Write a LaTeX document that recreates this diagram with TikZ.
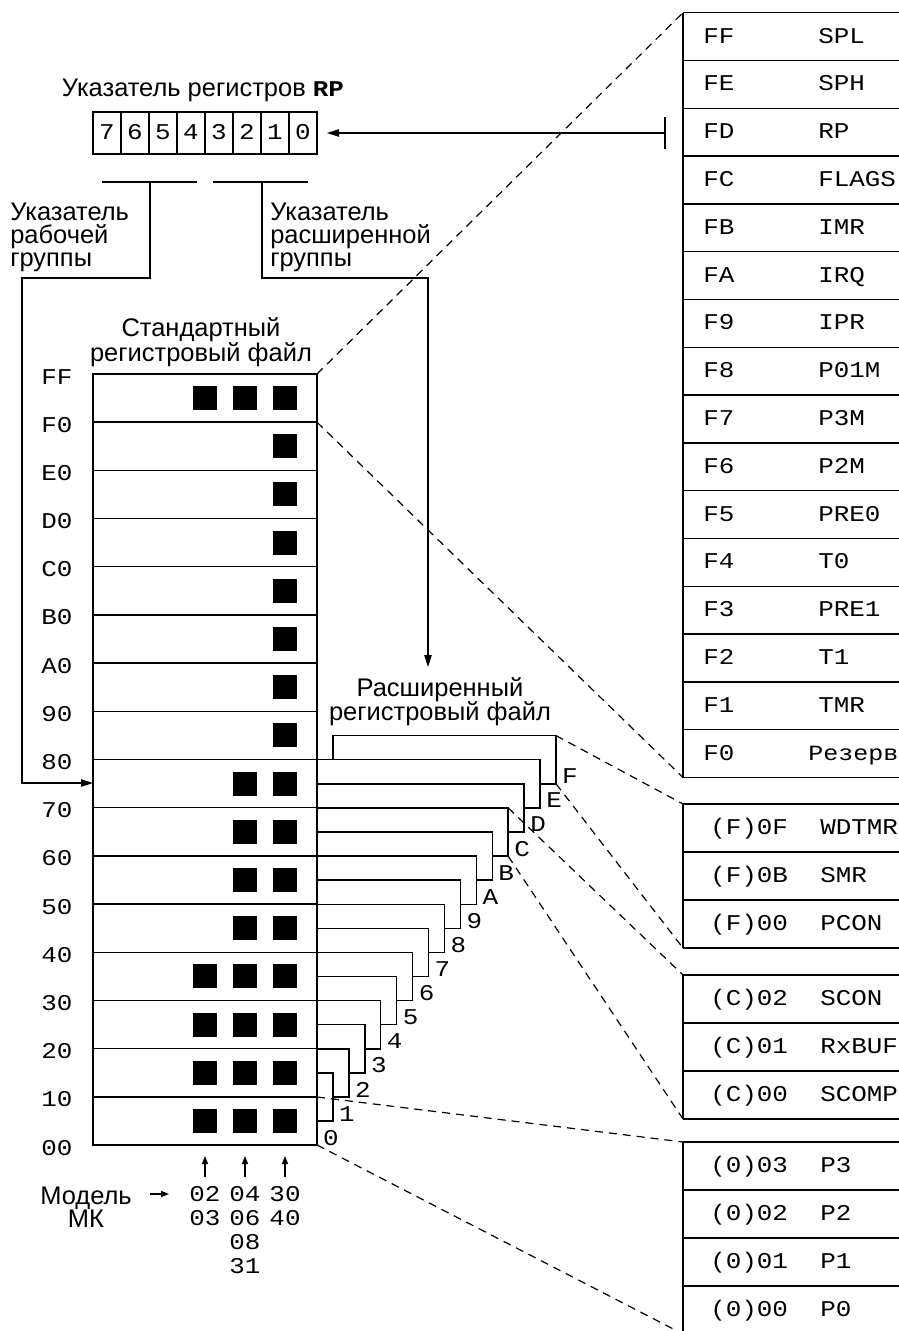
\documentclass[tikz,border=0pt]{standalone}
\usepackage{fontspec}
\setmainfont{Liberation Sans}
\newfontfamily\tw[FakeStretch=1.15]{Liberation Mono}
\usetikzlibrary{arrows.meta}
\begin{document}
\begin{tikzpicture}[x=0.75pt,y=-0.75pt,
  lbl/.style={font=\fontsize{19.1pt}{22pt}\selectfont, inner sep=0pt, anchor=base},
  lblw/.style={lbl, anchor=base west},
  mono/.style={font=\tw\fontsize{16.9pt}{18pt}\selectfont, inner sep=0pt, anchor=base},
  monow/.style={mono, anchor=base west},
  ln/.style={line width=1.1pt, line join=miter},
  dsh/.style={line width=0.9pt, dash pattern=on 6pt off 4.5pt},
  tip/.style={-{Triangle[length=9pt,width=5.5pt]}},
  smalltip/.style={-{Triangle[length=6pt,width=4.5pt]}},
]
\useasboundingbox (0,0) rectangle (899,1331);
\clip (0,0) rectangle (899,1331);

% ---------- RP register ----------
\node[lbl] (title) at (203,96) {Указатель регистров {\tw\fontsize{16.9pt}{18pt}\selectfont\bfseries RP}};
\foreach \i/\d in {0/7,1/6,2/5,3/4,4/3,5/2,6/1,7/0}{
  \draw[ln] ({93+28*\i},112) rectangle ({121+28*\i},154);
  \node[mono] (bit\d) at ({107+28*\i},139.5) {\d};
}
\coordinate (rpsrc) at (665,133);
\coordinate (rptip) at (327,133);
\draw[ln,tip] (rpsrc) -- (rptip);
\draw[ln] (665,117) -- (665,149);

% ---------- pointers ----------
\coordinate (wgL) at (102,182); \coordinate (wgR) at (197,182); \coordinate (wgM) at (150,182);
\coordinate (egL) at (213,182); \coordinate (egR) at (308,182); \coordinate (egM) at (262,182);
\coordinate (in80) at (93,783);
\coordinate (extin) at (428,667);
\draw[ln] (wgL) -- (wgR);
\draw[ln] (egL) -- (egR);
\draw[ln,tip] (wgM) -- (150,278) -- (22,278) -- (22,783) -- (in80);
\draw[ln,tip] (egM) -- (262,278) -- (428,278) -- (extin);

\node[lblw] (wg1) at (10,220) {Указатель};
\node[lblw] (wg2) at (10,243) {рабочей};
\node[lblw] (wg3) at (10,266) {группы};
\node[lblw] (eg1) at (270,220) {Указатель};
\node[lblw] (eg2) at (270,243) {расширенной};
\node[lblw] (eg3) at (270,266) {группы};

% ---------- standard register file ----------
\node[lbl] (srf1) at (201,336) {Стандартный};
\node[lbl] (srf2) at (201,361) {регистровый файл};
\draw[ln] (93,374) rectangle (317,1145);
\foreach \i in {1,...,15}{
  \draw[ln] (93,{374+48.19*\i}) -- (317,{374+48.19*\i});
}
\foreach \i/\t in {0/FF,1/F0,2/E0,3/D0,4/C0,5/B0,6/A0,7/90,8/80,9/70,10/60,11/50,12/40,13/30,14/20,15/10,16/00}{
  \node[mono] (addr\i) at (57,{374+48.19*\i+10}) {\t};
}
% black squares
\foreach \r in {0,...,15}{
  \fill ({285-12},{374+48.19*(\r+0.5)-12}) rectangle ++(24,24);
}
\foreach \r in {0,8,9,10,11,12,13,14,15}{
  \fill ({245-12},{374+48.19*(\r+0.5)-12}) rectangle ++(24,24);
}
\foreach \r in {0,12,13,14,15}{
  \fill ({205-12},{374+48.19*(\r+0.5)-12}) rectangle ++(24,24);
}

% ---------- extended register file (pages) ----------
\node[lbl] (erf1) at (440,696) {Расширенный};
\node[lbl] (erf2) at (440,720) {регистровый файл};
\foreach \k/\h in {1/1,2/2,3/3,4/4,5/5,6/6,7/7,8/8,9/9,10/A,11/B,12/C,13/D,14/E}{
  \pgfmathsetmacro\xr{317+15.93*\k}
  \pgfmathsetmacro\xp{317+15.93*(\k-1)}
  \pgfmathsetmacro\yt{1097-24.095*\k}
  \pgfmathsetmacro\yb{\yt+48.19}
  \draw[ln] (317,\yt) -- (\xr,\yt) -- (\xr,\yb) -- (\xp,\yb);
  \node[mono] (pg\h) at (\xr+14,\yb) {\h};
}
\coordinate (pFtl) at (556,735.6);
\coordinate (pFbr) at (556,783.8);
\draw[ln] (333,759.7) -- (333,735.6) -- (pFtl) -- (pFbr) -- (540,783.8);
\node[mono] (pgF) at (570,783.5) {F};
\node[mono] (pg0) at (331,1145) {0};

% ---------- upper table FF..F0 ----------
\draw[ln] (683,12.7) -- (683,777.5);
\foreach \i/\a/\n in {0/FF/SPL,1/FE/SPH,2/FD/RP,3/FC/FLAGS,4/FB/IMR,5/FA/IRQ,6/F9/IPR,7/F8/P01M,8/F7/P3M,9/F6/P2M,10/F5/PRE0,11/F4/T0,12/F3/PRE1,13/F2/T1,14/F1/TMR}{
  \draw[ln] (683,{12.7+47.8*\i}) -- (905,{12.7+47.8*\i});
  \node[monow] (ua\i) at (703,{12.7+47.8*(\i+0.5)+6.5}) {\a};
  \node[monow] (un\i) at (818,{12.7+47.8*(\i+0.5)+6.5}) {\n};
}
\draw[ln] (683,{12.7+47.8*15}) -- (905,{12.7+47.8*15});
\node[monow] (ua15) at (703,{12.7+47.8*15.5+6.5}) {F0};
\node[monow, font=\tw\fontsize{16.3pt}{18pt}\selectfont] (un15) at (808,{12.7+47.8*15.5+6.5}) {Резерв};
\draw[ln] (683,777.5) -- (905,777.5);

% ---------- lower tables ----------
\draw[ln] (683,804) -- (683,948);
\foreach \i in {0,...,3}{ \draw[ln] (683,{804+48*\i}) -- (905,{804+48*\i}); }
\foreach \i/\a/\n in {0/(F)0F/WDTMR,1/(F)0B/SMR,2/(F)00/PCON}{
  \node[monow] (fa\i) at (710,{804+48*(\i+0.5)+6.5}) {\a};
  \node[monow] (fn\i) at (820,{804+48*(\i+0.5)+6.5}) {\n};
}
\draw[ln] (683,975) -- (683,1119);
\foreach \i in {0,...,3}{ \draw[ln] (683,{975+48*\i}) -- (905,{975+48*\i}); }
\foreach \i/\a/\n in {0/(C)02/SCON,1/(C)01/RxBUF,2/(C)00/SCOMP}{
  \node[monow] (ca\i) at (710,{975+48*(\i+0.5)+6.5}) {\a};
  \node[monow] (cn\i) at (820,{975+48*(\i+0.5)+6.5}) {\n};
}
\draw[ln] (683,1142) -- (683,1340);
\foreach \i in {0,...,4}{ \draw[ln] (683,{1142+48*\i}) -- (905,{1142+48*\i}); }
\foreach \i/\a/\n in {0/(0)03/P3,1/(0)02/P2,2/(0)01/P1,3/(0)00/P0}{
  \node[monow] (za\i) at (710,{1142+48*(\i+0.5)+6.5}) {\a};
  \node[monow] (zn\i) at (820,{1142+48*(\i+0.5)+6.5}) {\n};
}

% ---------- dashed projections ----------
\draw[dsh] (317,374) -- (683,12.7);
\draw[dsh] (317,422.2) -- (683,777.5);
\draw[dsh] (pFtl) -- (683,804);
\draw[dsh] (pFbr) -- (683,948);
\draw[dsh] (508.2,807.9) -- (683,975);
\draw[dsh] (508.2,856.1) -- (683,1119);
\draw[dsh] (317,1097) -- (683,1142);
\draw[dsh] (317,1145) -- (683,1334);

% ---------- model labels ----------
\node[lbl] (mod1) at (86,1204) {Модель};
\node[lbl] (mod2) at (86,1227) {МК};
\draw[ln,smalltip] (150,1194) -- (169,1194);
\foreach \x in {205,245,285}{ \draw[ln,smalltip] (\x,1177) -- (\x,1156); }
\node[mono] (m02) at (205,1201.5) {02};
\node[mono] (m03) at (205,1225) {03};
\node[mono] (m04) at (245,1201.5) {04};
\node[mono] (m06) at (245,1225) {06};
\node[mono] (m08) at (245,1249) {08};
\node[mono] (m31) at (245,1273) {31};
\node[mono] (m30) at (285,1201.5) {30};
\node[mono] (m40) at (285,1225) {40};
\end{tikzpicture}
\end{document}
